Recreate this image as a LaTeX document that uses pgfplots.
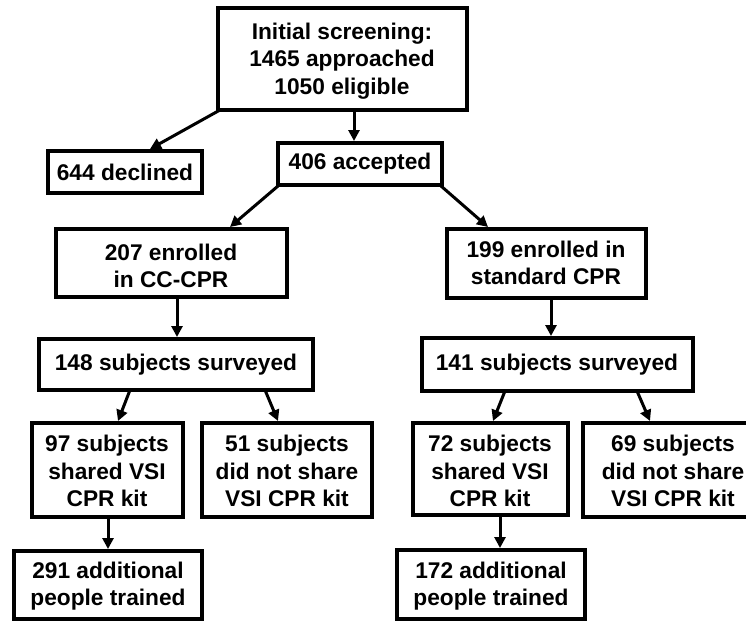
\documentclass[border=0pt]{standalone}
\usepackage{pgfplots}
\pgfplotsset{compat=1.18}
\usepackage{fontspec}
\setmainfont{Liberation Sans}
\usetikzlibrary{arrows.meta}
\tikzset{
  box/.style={black, line width=3.9pt, line join=miter},
  arr/.style={black, line width=3pt, -{Triangle[length=11pt,width=11pt]}},
  lbl/.style={align=center, inner sep=0pt, font=\fontsize{22.7}{27.5}\selectfont\bfseries},
}
\newcommand{\bx}[4]{\addplot[box, no markers] coordinates {(#1,#2) (#3,#2) (#3,#4) (#1,#4) (#1,#2) (#3,#2)};}
\begin{document}
\begin{tikzpicture}
\begin{axis}[
  width=746pt, height=624pt, scale only axis,
  xmin=0, xmax=746, ymin=0, ymax=624, y dir=reverse,
  hide axis, clip=false,
]
% boxes
\bx{218}{8}{467}{110}
\bx{48}{151}{202}{193}
\bx{278}{143}{442}{185}
\bx{56}{229}{287}{297}
\bx{447}{229}{646}{298}
\bx{39}{339}{313}{390}
\bx{422}{338}{693}{391}
\bx{32}{423}{183}{517}
\bx{202}{423}{372}{517}
\bx{413}{423}{568}{515}
\bx{583}{423}{770}{517}
\bx{14}{551}{202}{619}
\bx{397}{550}{585}{619}
% arrows
\addplot[arr, no markers] coordinates {(354,110) (354,141)};
\addplot[arr, no markers] coordinates {(220,110) (150,149)};
\addplot[arr, no markers] coordinates {(278,186) (230,227)};
\addplot[arr, no markers] coordinates {(441,186) (488,227)};
\addplot[arr, no markers] coordinates {(177,297) (177,337)};
\addplot[arr, no markers] coordinates {(551,298) (551,336)};
\addplot[arr, no markers] coordinates {(130,390) (118,421)};
\addplot[arr, no markers] coordinates {(265,390) (278,421)};
\addplot[arr, no markers] coordinates {(505,391) (493,421)};
\addplot[arr, no markers] coordinates {(637,391) (650,421)};
\addplot[arr, no markers] coordinates {(108,517) (108,549)};
\addplot[arr, no markers] coordinates {(500,515) (500,548)};
% labels
\node[lbl] at (axis cs:342,61) {Initial screening:\\1465 approached\\1050 eligible};
\node[lbl] at (axis cs:125,172) {644 declined};
\node[lbl] at (axis cs:360,164) {406 accepted};
\node[lbl] at (axis cs:171,266) {207 enrolled\\in CC-CPR};
\node[lbl] at (axis cs:546,263) {199 enrolled in\\standard CPR};
\node[lbl] at (axis cs:176,365) {148 subjects surveyed};
\node[lbl] at (axis cs:557,365) {141 subjects surveyed};
\node[lbl] at (axis cs:107,471) {97 subjects\\shared VSI\\CPR kit};
\node[lbl] at (axis cs:287,471) {51 subjects\\did not share\\VSI CPR kit};
\node[lbl] at (axis cs:490,471) {72 subjects\\shared VSI\\CPR kit};
\node[lbl] at (axis cs:673,471) {69 subjects\\did not share\\VSI CPR kit};
\node[lbl] at (axis cs:108,586) {291 additional\\people trained};
\node[lbl] at (axis cs:491,586) {172 additional\\people trained};
\end{axis}
\pgfresetboundingbox
\useasboundingbox (0,0) rectangle (746pt,624pt);
\end{tikzpicture}
\end{document}
